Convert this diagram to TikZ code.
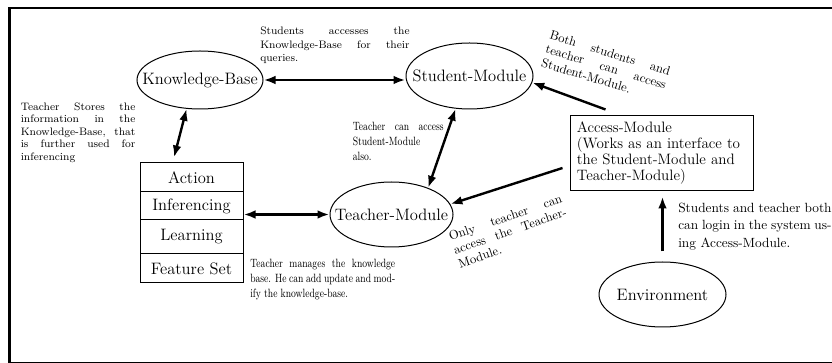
\documentclass[tikz,border=0pt]{standalone}
\usepackage{graphicx}
\usetikzlibrary{arrows.meta,shapes.geometric,calc}
\newcommand{\jl}[2]{\makebox[#1][s]{#2}}
\newcommand{\fA}{\fontsize{12.4}{14}\selectfont}
\newcommand{\fB}{\fontsize{11.3}{12}\selectfont}
\newcommand{\fS}{\fontsize{8.1}{10.1}\selectfont}
\newcommand{\fSs}{\fontsize{8.1}{9.4}\selectfont}
\newcommand{\fN}{\fontsize{10}{13.3}\selectfont}
\newcommand{\fC}{\fontsize{9}{11.4}\selectfont}
\newcommand{\fR}{\fontsize{9.5}{10.8}\selectfont}
\begin{document}
\begin{tikzpicture}[x=0.75pt,y=-0.75pt,
  ell/.style={draw, ellipse, inner sep=0pt, line width=0.75pt, font=\fA},
  row/.style={draw, rectangle, inner sep=0pt, minimum width=77.25pt, line width=0.75pt, font=\fA},
  link/.style={line width=1.8pt, {Latex[length=9pt,width=6.5pt]}-{Latex[length=9pt,width=6.5pt]}},
  onelink/.style={line width=1.8pt, -{Latex[length=9pt,width=6.5pt]}},
  note/.style={inner sep=0pt, anchor=north west, align=left}
]
\useasboundingbox (0,0) rectangle (832,363);
\begin{scope}
\clip (0,0) rectangle (832,363);
\draw[line width=2.1pt] (9.7,8) rectangle (860,363.3);
\end{scope}

% ellipses
\node[ell, minimum width=94.5pt, minimum height=43.5pt] (kb) at (200,80) {\makebox[0pt]{Knowledge-Base}};
\node[ell, minimum width=95.25pt, minimum height=49.5pt] (sm) at (469.5,76) {\makebox[0pt]{Student-Module}};
\node[ell, minimum width=92.25pt, minimum height=48.75pt] (tm) at (391.5,214.5) {\makebox[0pt]{Teacher-Module}};
\node[ell, minimum width=95.25pt, minimum height=48.75pt] (env) at (662.5,294.5) {\makebox[0pt]{Environment}};

% stack
\node[row, minimum height=21.75pt] (action) at (191.5,177.5) {Action};
\node[row, minimum height=21pt] (infer) at (191.5,206) {Inferencing};
\node[row, minimum height=25.5pt] (learn) at (191.5,237) {Learning};
\node[row, minimum height=21.75pt] (feat) at (191.5,268.5) {Feature Set};

% access module
\node[draw, line width=0.75pt, inner xsep=5pt, inner ysep=0pt, minimum width=137.25pt,
      minimum height=56.25pt, font=\fB, align=left, text width=127pt] (acc) at (661.5,153.5)
  {Access-Module\\ \jl{127pt}{(Works as an interface to}\\ \jl{127pt}{the Student-Module and}\\ Teacher-Module)};

% connectors
\draw[link] (kb.east) -- (kb.east -| sm.west);
\draw[link] (kb.245) -- ($(action.north)+(-17.5,-5)$);
\draw[link] (infer.east |- tm.west) -- (tm.west);
\draw[link] (sm.247) -- (tm.36);
\draw[onelink] ($(acc.north)+(-56,-6)$) -- (sm.-6);
\draw[onelink] ($(acc.west)+(-7,14.5)$) -- (tm.10);
\draw[onelink, shorten <=7.5pt, shorten >=3.75pt] (env.north) -- (env.north |- acc.south);

% notes
\node[note, font=\fS] (t1) at (260,27)
  {\jl{112pt}{Students accesses the}\\ \jl{112pt}{Knowledge-Base for their}\\ queries.};
\node[note, font=\fSs] (t2) at (20.5,102.5)
  {\jl{86pt}{Teacher Stores the}\\ \jl{86pt}{information in the}\\ \jl{86pt}{Knowledge-Base, that}\\ \jl{86pt}{is further used for}\\ inferencing};
\node[note] (t3) at (352.5,121.5)
  {\scalebox{0.78}[1]{\parbox[t]{87.5pt}{\fC\jl{87.5pt}{Teacher can access}\\ Student-Module\\ also.}}};
\node[note] (t4) at (250,258.5)
  {\scalebox{0.78}[1]{\parbox[t]{139.4pt}{\fC\jl{139.4pt}{Teacher manages the knowledge}\\ \jl{139.4pt}{base. He can add update and mod-}\\ ify the knowledge-base.}}};
\node[note, font=\fN] (t5) at (678,202.5)
  {\jl{115pt}{Students and teacher both}\\ \jl{115pt}{can login in the system us-}\\ ing Access-Module.};
\node[rotate=-17, inner sep=0pt, align=left, font=\fR] (t6) at (606,67)
  {\jl{94pt}{Both students and}\\ \jl{94pt}{teacher can access}\\ Student-Module.};
\node[rotate=19, inner sep=0pt, align=left, font=\fR] (t7) at (510,231)
  {\jl{89pt}{Only teacher can}\\ \jl{89pt}{access the Teacher-}\\ Module.};
\end{tikzpicture}
\end{document}
